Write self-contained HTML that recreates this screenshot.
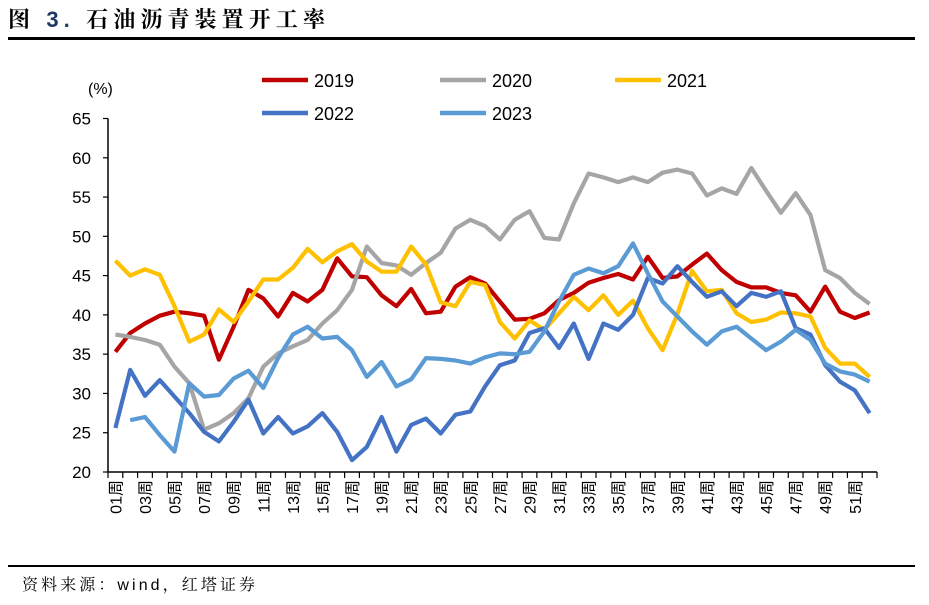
<!DOCTYPE html>
<html><head><meta charset="utf-8"><style>
body{margin:0;background:#fff;}
svg{display:block;font-family:"Liberation Sans","Noto Sans CJK SC",sans-serif;}
</style></head><body>
<svg width="929" height="605">
<text x="8" y="27" font-size="22" font-weight="bold" fill="#000" textLength="317" lengthAdjust="spacing" font-family="'Liberation Sans','Noto Serif CJK SC',serif">图 <tspan fill="#1F3864" font-family="'Liberation Sans',sans-serif">3.</tspan> 石油沥青装置开工率</text>
<line x1="8" y1="38.5" x2="915" y2="38.5" stroke="#000" stroke-width="3"/>
<line x1="8" y1="566" x2="915" y2="566" stroke="#000" stroke-width="2"/>
<text x="22" y="590" font-size="16" fill="#000" textLength="233" lengthAdjust="spacing" font-family="'Liberation Sans','Noto Serif CJK SC',serif">资料来源：wind，红塔证券</text>
<text x="88" y="94" font-size="16" fill="#000">(%)</text>
<g id="axes"></g>
<g id="series"></g>
<g id="legend"></g>
</svg>
<script>
const weeks = Array.from({length:52},(_,i)=>i+1);
const yTicks = [20,25,30,35,40,45,50,55,60,65];
const seriesNames = ["2019","2020","2021","2022","2023"];
const s2019 = [35.3,37.7,38.9,39.9,40.4,40.2,39.9,34.3,38.5,43.2,42.1,39.8,42.8,41.7,43.2,47.2,44.9,44.8,42.5,41.1,43.3,40.2,40.4,43.6,44.8,44.0,41.7,39.4,39.5,40.2,41.9,42.8,44.1,44.7,45.2,44.5,47.4,44.7,44.9,46.4,47.8,45.7,44.2,43.5,43.5,42.8,42.5,40.4,43.6,40.4,39.6,40.3];
const s2020 = [37.5,37.2,36.8,36.2,33.4,31.3,25.4,26.2,27.5,29.4,33.4,35.1,36.0,36.8,38.9,40.6,43.2,48.7,46.6,46.3,45.1,46.6,47.9,51.0,52.1,51.3,49.6,52.1,53.2,49.8,49.6,54.2,58.0,57.5,56.9,57.5,56.9,58.1,58.5,58.0,55.2,56.1,55.4,58.7,55.8,53.0,55.5,52.7,45.7,44.7,42.8,41.4];
const s2021 = [46.9,45.0,45.8,45.1,41.1,36.6,37.5,40.7,39.1,41.7,44.5,44.5,46.0,48.4,46.7,48.1,49.0,46.8,45.5,45.5,48.7,46.4,41.6,41.1,44.2,43.8,39.1,37.0,39.3,38.1,40.2,42.3,40.6,42.5,40.0,41.8,38.3,35.5,40.1,45.6,43.0,43.2,40.2,39.1,39.4,40.3,40.2,39.8,35.8,33.8,33.8,32.1];
const s2022 = [25.6,33.0,29.7,31.7,29.6,27.5,25.1,23.9,26.4,29.2,24.9,27.0,24.9,25.8,27.5,25.1,21.5,23.2,27.0,22.6,26.0,26.8,24.9,27.3,27.7,30.9,33.6,34.2,37.7,38.3,35.8,38.9,34.4,38.9,38.1,40.0,44.7,44.0,46.2,44.2,42.3,43.0,41.1,42.8,42.3,43.0,38.3,37.5,33.6,31.5,30.4,27.5];
const s2023 = [null,26.6,27.0,24.7,22.6,31.3,29.6,29.8,31.9,32.9,30.7,34.5,37.5,38.5,37.0,37.2,35.5,32.1,34.0,30.9,31.8,34.5,34.4,34.2,33.8,34.6,35.1,35.0,35.3,37.9,41.7,45.1,45.9,45.3,46.2,49.1,45.3,41.7,39.8,37.9,36.2,37.9,38.5,37.0,35.5,36.6,38.1,36.8,33.8,32.8,32.4,31.5];
const seriesData = [s2019,s2020,s2021,s2022,s2023];
const colors = ["#C00000","#A5A5A5","#FFC000","#4472C4","#5B9BD5"];

const NS="http://www.w3.org/2000/svg";
const X0=108, X1=877, Y0=472, Y1=118.5, VMIN=20, VMAX=65;
const step=(X1-X0)/52;
function xs(w){return X0+step*(w-0.5);}
function ys(v){return Y0-(v-VMIN)/(VMAX-VMIN)*(Y0-Y1);}
function mk(tag,attrs,parent){const e=document.createElementNS(NS,tag);for(const k in attrs)e.setAttribute(k,attrs[k]);parent.appendChild(e);return e;}
const axes=document.getElementById('axes');
let e=mk('line',{x1:X0,y1:Y1,x2:X0,y2:Y0,stroke:'#000','stroke-width':1.5},axes);


e=mk('line',{x1:X0,y1:Y0,x2:X1,y2:Y0,stroke:'#000','stroke-width':1.5},axes);


yTicks.forEach(v=>{
  const y=ys(v);
  mk('line',{x1:X0-5,y1:y,x2:X0,y2:y,stroke:'#000','stroke-width':1.2},axes);
  const t=mk('text',{x:91,y:y+6,'font-size':17,'text-anchor':'end',fill:'#000'},axes);
  t.textContent=v;
  
  
});
for(let k=0;k<=52;k++){const x=X0+step*k;mk('line',{x1:x,y1:Y0,x2:x,y2:Y0+6,stroke:'#000','stroke-width':1.2},axes);}
weeks.forEach(w=>{
  if(w%2===0)return;
  const x=xs(w)+6, y=Y0+8;
  const t=mk('text',{x:x,y:y,'font-size':16,'text-anchor':'end',fill:'#000',transform:`rotate(-90 ${x} ${y})`},axes);
  t.textContent=(w<10?'0':'')+w+'周';
  
  
});
const sg=document.getElementById('series');
seriesData.forEach((arr,i)=>{
  let d='';let started=false;
  arr.forEach((v,j)=>{if(v==null)return;d+=(started?'L':'M')+xs(weeks[j]).toFixed(1)+' '+ys(v).toFixed(1);started=true;});
  const p=mk('path',{d:d,fill:'none',stroke:colors[i],'stroke-width':4.2,'stroke-linejoin':'round'},sg);
  
  
});
const lg=document.getElementById('legend');
const lpos=[[262,80],[440,80],[615,80],[262,113],[440,113]];
seriesNames.forEach((n,i)=>{
  const [x,y]=lpos[i];
  const g=mk('g',{},lg);
  
  
  mk('line',{x1:x,y1:y,x2:x+46,y2:y,stroke:colors[i],'stroke-width':4.5},g);
  const t=mk('text',{x:x+52,y:y+7,'font-size':18,fill:'#000'},g);
  t.textContent=n;
});
</script>
</body></html>
